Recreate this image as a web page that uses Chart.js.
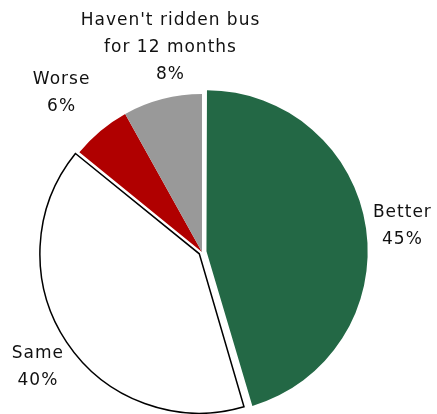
<!DOCTYPE html>
<html lang="en">
<head>
  <meta charset="UTF-8">
  <title>Bus ride experience</title>
  <style>
    html, body {
      margin: 0;
      padding: 0;
      background-color: #ffffff;
    }
    #wrap {
      width: 437px;
      height: 414px;
    }
  </style>
</head>
<body>
  <div id="wrap">
    <canvas id="pieChart" width="437" height="414"></canvas>
  </div>

  <script src="https://cdn.jsdelivr.net/npm/chart.js"></script>
  <script>
    // Data
    const categories = [['Better'], ['Same'], ['Worse'], ["Haven't ridden bus", 'for 12 months']];
    const shares = [45, 40, 6, 8];

    const sliceColors = ['#236845', '#ffffff', '#b00000', '#999999'];
    const sliceBorders = ['#ffffff', '#000000', '#ffffff', '#ffffff'];
    const sliceBorderWidths = [0, 1.5, 0, 0];
    const sliceOffsets = [18, 13, 0, 0];

    // small manual shifts so labels sit where the original placed them
    const labelNudge = [[2, 2], [0, 5], [-12, -7], [34, 0]];

    const outsideLabels = {
      id: 'outsideLabels',
      afterDatasetsDraw(chart, args, opts) {
        const ctx = chart.ctx;
        const meta = chart.getDatasetMeta(0);
        ctx.save();
        ctx.font = opts.font;
        ctx.fillStyle = opts.color;
        ctx.letterSpacing = opts.letterSpacing;
        ctx.textAlign = 'center';
        ctx.textBaseline = 'middle';
        meta.data.forEach((arc, i) => {
          const mid = (arc.startAngle + arc.endAngle) / 2;
          const dx = Math.cos(mid), dy = Math.sin(mid);
          const dist = arc.outerRadius + opts.gap;
          const lines = categories[i].concat([shares[i] + '%']);
          const w = Math.max(...lines.map(l => ctx.measureText(l).width));
          const h = lines.length * opts.lineHeight;
          const cx = chart.chartArea.left + chart.chartArea.width / 2 + dx * dist + dx * w / 2 + labelNudge[i][0];
          const cy = chart.chartArea.top + chart.chartArea.height / 2 + dy * dist + dy * h / 2 + labelNudge[i][1];
          lines.forEach((line, j) => {
            ctx.fillText(line, cx, cy - h / 2 + opts.lineHeight * (j + 0.5));
          });
        });
        ctx.restore();
      }
    };

    new Chart(document.getElementById('pieChart'), {
      type: 'pie',
      data: {
        labels: categories.map(c => c.join(' ')),
        datasets: [{
          data: shares,
          backgroundColor: sliceColors,
          borderColor: sliceBorders,
          borderWidth: sliceBorderWidths,
          borderJoinStyle: 'miter',
          offset: sliceOffsets,
          hoverOffset: 0,
          radius: 158
        }]
      },
      options: {
        responsive: false,
        animation: false,
        layout: {
          padding: { left: 0, right: 33, top: 90, bottom: 0 }
        },
        plugins: {
          legend: { display: false },
          tooltip: { enabled: false },
          outsideLabels: {
            font: '17px "DejaVu Sans"',
            color: '#111111',
            letterSpacing: '1px',
            lineHeight: 27,
            gap: 13
          }
        }
      },
      plugins: [outsideLabels]
    });
  </script>
</body>
</html>
